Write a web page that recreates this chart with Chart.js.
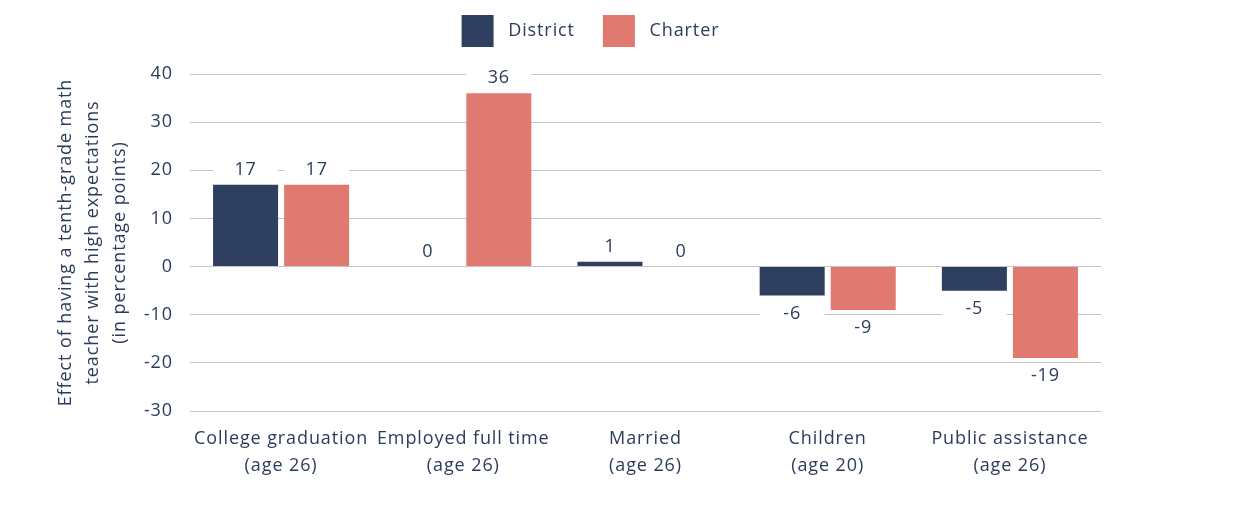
<!DOCTYPE html>
<html>
<head>
<meta charset="utf-8">
<script src="https://cdn.jsdelivr.net/npm/chart.js@4.4.1/dist/chart.umd.min.js"></script>
<style>
  html, body { margin: 0; padding: 0; background: #fff; }
  #wrap { width: 1234px; height: 530px; }
</style>
</head>
<body>
<div id="wrap"><canvas id="chart"></canvas></div>
<script>
// Data
const categories = [
  ['College graduation', '(age 26)'],
  ['Employed full time', '(age 26)'],
  ['Married', '(age 26)'],
  ['Children', '(age 20)'],
  ['Public assistance', '(age 26)']
];
const districtValues = [17, 0, 1, -6, -5];
const charterValues = [17, 36, 0, -9, -19];
const yTicks = [-30, -20, -10, 0, 10, 20, 30, 40];

const textColor = '#2d3b5b';
const fontFamily = "'Open Sans', sans-serif";
const fontSize = 18;

// the reference font is wider, so space the letters a little;
// also give the legend some room below it and nudge it right
const tweaks = {
  id: 'tweaks',
  beforeInit(chart) { chart.ctx.letterSpacing = '0.9px'; },
  beforeUpdate(chart) {
    chart.ctx.letterSpacing = '0.9px';
    const lg = chart.legend;
    if (lg && !lg._fitWrapped) {
      const fit = lg.fit;
      lg.fit = function () {
        fit.call(this);
        this.height += 17;
      };
      lg._fitWrapped = true;
    }
  },
  afterLayout(chart) {
    if (chart.legend) {
      chart.legend.left += 40;
      chart.legend.right += 40;
    }
  },
  beforeDraw(chart) { chart.ctx.letterSpacing = '0.9px'; }
};

// value labels with a white box behind them (hides the gridline)
const valueLabels = {
  id: 'valueLabels',
  afterDatasetsDraw(chart) {
    const ctx = chart.ctx;
    ctx.save();
    ctx.font = fontSize + 'px ' + fontFamily;
    ctx.textAlign = 'center';
    ctx.textBaseline = 'middle';
    chart.data.datasets.forEach((ds, i) => {
      const meta = chart.getDatasetMeta(i);
      meta.data.forEach((bar, j) => {
        const v = ds.data[j];
        const y = v >= 0 ? bar.y - 16 : bar.y + 17;
        ctx.fillStyle = '#fff';
        ctx.fillRect(bar.x - bar.width / 2, y - 11, bar.width, 22);
        ctx.fillStyle = textColor;
        ctx.fillText(String(v), bar.x, y + 1);
      });
    });
    ctx.restore();
  }
};

new Chart(document.getElementById('chart'), {
  type: 'bar',
  data: {
    labels: categories,
    datasets: [
      {
        label: 'District',
        data: districtValues,
        backgroundColor: '#2e3f5f',
        categoryPercentage: 0.78,
        barPercentage: 0.915
      },
      {
        label: 'Charter',
        data: charterValues,
        backgroundColor: '#e07a70',
        categoryPercentage: 0.78,
        barPercentage: 0.915
      }
    ]
  },
  options: {
    responsive: true,
    maintainAspectRatio: false,
    animation: false,
    layout: { padding: { top: -13, right: 133, bottom: 37, left: 0 } },
    plugins: {
      legend: {
        position: 'top',
        labels: {
          boxWidth: 32,
          boxHeight: 32,
          padding: 28,
          color: textColor,
          font: { family: fontFamily, size: fontSize },
          generateLabels(chart) {
            const items = Chart.defaults.plugins.legend.labels.generateLabels(chart);
            return items.map(it => Object.assign(it, { text: ' ' + it.text }));
          }
        }
      },
      tooltip: { enabled: false }
    },
    scales: {
      x: {
        grid: { display: false, drawTicks: false },
        border: { display: false },
        ticks: {
          color: textColor,
          padding: 14,
          maxRotation: 0,
          font: { family: fontFamily, size: fontSize, lineHeight: 1.5 }
        }
      },
      y: {
        min: -30,
        max: 40,
        afterFit(scale) { scale.width = 190; },
        afterBuildTicks(scale) { scale.ticks = yTicks.map(v => ({ value: v })); },
        grid: { color: '#c4c4c4', lineWidth: 1, drawTicks: false },
        border: { display: false },
        ticks: {
          color: textColor,
          padding: 17,
          font: { family: fontFamily, size: fontSize }
        },
        title: {
          display: true,
          text: ['Effect of having a tenth-grade math', 'teacher with high expectations', '(in percentage points)'],
          color: textColor,
          padding: { top: 52, bottom: 0 },
          font: { family: fontFamily, size: fontSize, lineHeight: 1.5 }
        }
      }
    }
  },
  plugins: [tweaks, valueLabels]
});
</script>
</body>
</html>
